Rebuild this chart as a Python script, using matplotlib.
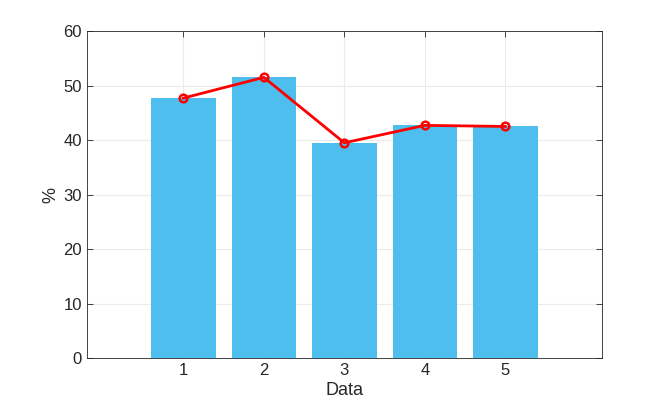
import matplotlib.pyplot as plt

# === DADOS ===
categorias = [1, 2, 3, 4, 5]
barras = [47.7, 51.5, 39.4, 42.7, 42.6]
linha = [47.7, 51.5, 39.5, 42.7, 42.5]

plt.rcParams['font.family'] = ['Liberation Sans', 'DejaVu Sans']

fig = plt.figure(figsize=(6.64, 4.04), dpi=100)
ax = fig.add_axes([0.1306, 0.1131, 0.776, 0.8102])

ax.bar(categorias, barras, width=0.8, color='#4DBEEE', zorder=2)
ax.plot(categorias, linha, color='red', linewidth=2, marker='o',
        markersize=5.5, markerfacecolor='none', markeredgewidth=1.8, zorder=3)

ax.set_xlim(-0.2, 6.2)
ax.set_ylim(0, 60)
ax.set_xticks(categorias)
ax.set_yticks(range(0, 61, 10))
ax.set_xlabel("Data", fontsize=13, color='#262626', labelpad=3)
ax.set_ylabel("%", fontsize=13, color='#262626', labelpad=3)
ax.grid(True, color='#ebebeb', linewidth=0.8, zorder=0)
ax.set_axisbelow(True)
ax.tick_params(direction='in', length=4, labelsize=12, colors='#262626',
               top=True, right=True, width=0.6)
for s in ax.spines.values():
    s.set_color('#262626')
    s.set_linewidth(0.6)

fig.savefig('out.png', dpi=100)
